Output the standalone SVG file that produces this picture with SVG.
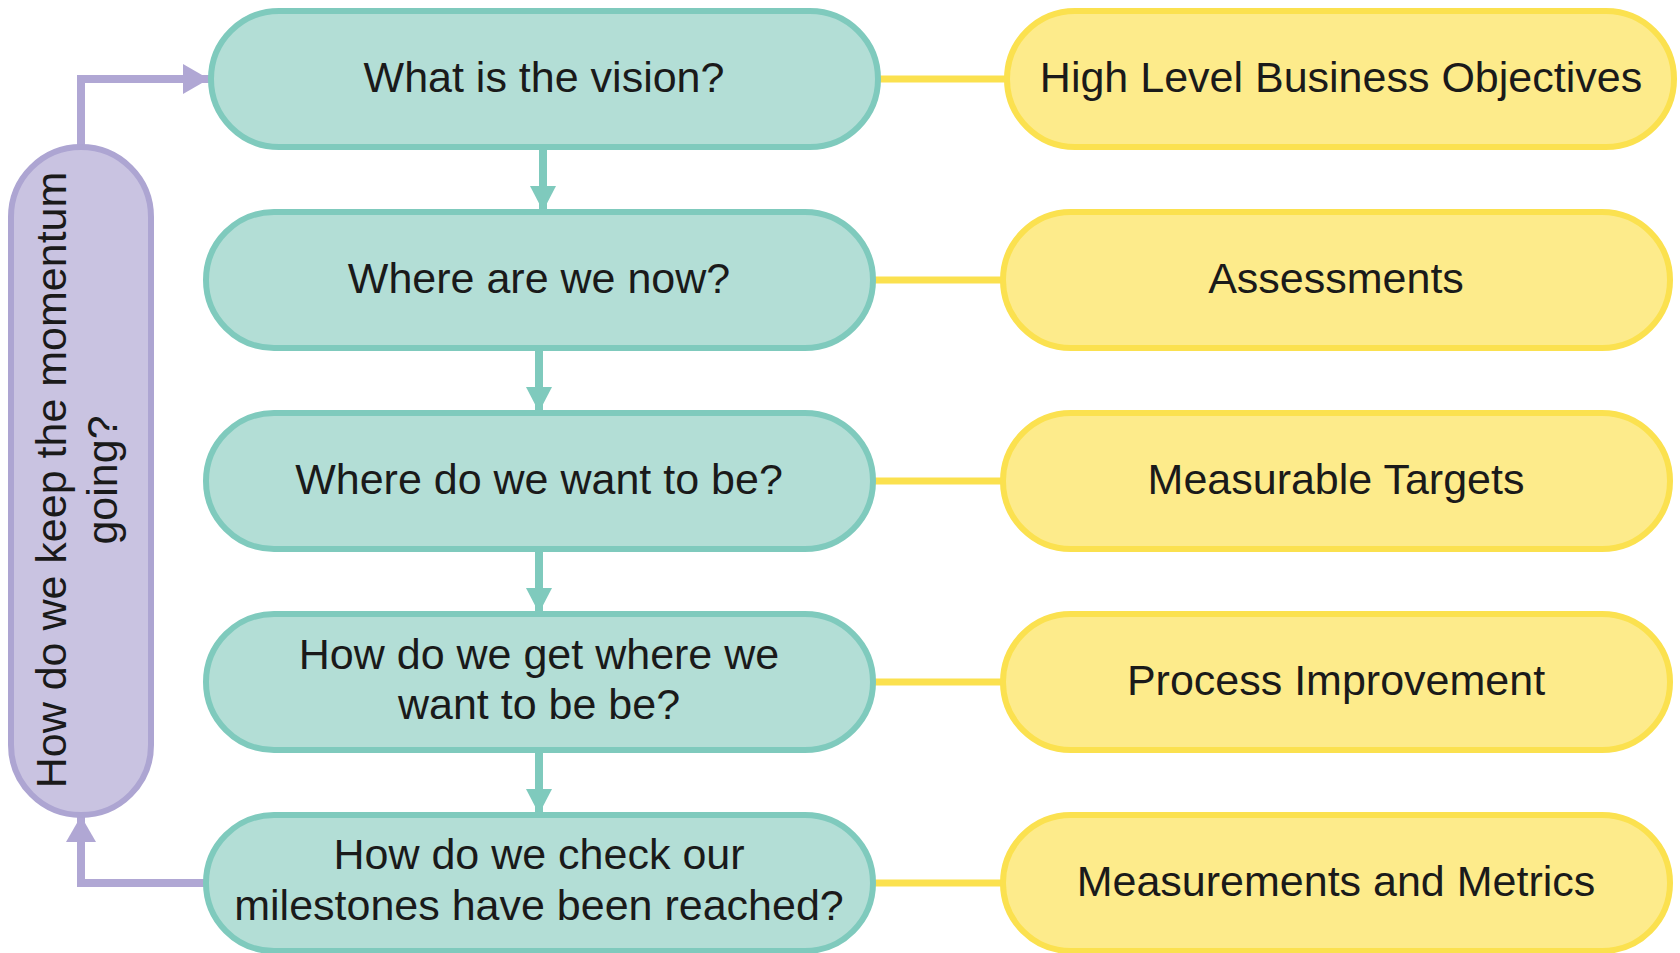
<svg xmlns="http://www.w3.org/2000/svg" width="1680" height="953" viewBox="0 0 1680 953">
  <style>
    .q rect { fill: #b3ded6; stroke: #7fcabd; stroke-width: 6; }
    .a rect { fill: #fdeb8b; stroke: #fbe14f; stroke-width: 6; }
    .loop rect { fill: #c9c3e1; stroke: #ada5d2; stroke-width: 6; }
    text { font-family: "Liberation Sans", Arial, sans-serif; font-size: 43px; fill: #1a1a1a; text-anchor: middle; }
    .flow { stroke: #7fcabd; stroke-width: 8; fill: none; }
    .link { stroke: #fbe14f; stroke-width: 7; fill: none; }
    .back { stroke: #b0a7d4; stroke-width: 8; fill: none; }
  </style>
  <defs>
    <marker id="tealHead" markerUnits="userSpaceOnUse" markerWidth="26" markerHeight="26" refX="25" refY="13" orient="auto">
      <path d="M0,0 L25,13 L0,26 Z" fill="#7fcabd"/>
    </marker>
    <marker id="purpleHead" markerUnits="userSpaceOnUse" markerWidth="27" markerHeight="30" refX="26" refY="15" orient="auto">
      <path d="M0,0 L26,15 L0,30 Z" fill="#b0a7d4"/>
    </marker>
  </defs>
  <rect width="1680" height="953" fill="#ffffff"/>

  <!-- connectors -->
  <g id="connectors">
    <!-- question flow -->
    <path class="flow" d="M543,148 V211" marker-end="url(#tealHead)"/>
    <path class="flow" d="M539,349 V412" marker-end="url(#tealHead)"/>
    <path class="flow" d="M539,550 V613" marker-end="url(#tealHead)"/>
    <path class="flow" d="M539,751 V814" marker-end="url(#tealHead)"/>
    <!-- question to answer links -->
    <path class="link" d="M878,79 H1007"/>
    <path class="link" d="M873,280 H1003"/>
    <path class="link" d="M873,481 H1003"/>
    <path class="link" d="M873,682 H1003"/>
    <path class="link" d="M873,883 H1003"/>
    <!-- feedback loop -->
    <path class="back" d="M81,147 V79 H209" marker-end="url(#purpleHead)"/>
    <path class="back" d="M206,883 H81 V816" marker-end="url(#purpleHead)"/>
  </g>

  <!-- loop node -->
  <g id="node-momentum" class="loop">
    <rect x="11" y="147" width="140" height="668" rx="70" ry="70"/>
    <g transform="translate(81,480) rotate(-90)">
      <text x="0" y="-15">How do we keep the momentum</text>
      <text x="0" y="36">going?</text>
    </g>
  </g>

  <!-- question nodes -->
  <g id="node-vision" class="q">
    <rect x="211" y="11" width="667" height="136" rx="68" ry="68"/>
    <text x="544" y="92">What is the vision?</text>
  </g>
  <g id="node-now" class="q">
    <rect x="206" y="212" width="667" height="136" rx="68" ry="68"/>
    <text x="539" y="293">Where are we now?</text>
  </g>
  <g id="node-want" class="q">
    <rect x="206" y="413" width="667" height="136" rx="68" ry="68"/>
    <text x="539" y="494">Where do we want to be?</text>
  </g>
  <g id="node-how" class="q">
    <rect x="206" y="614" width="667" height="136" rx="68" ry="68"/>
    <text x="539" y="669">How do we get where we</text>
    <text x="539" y="719">want to be be?</text>
  </g>
  <g id="node-check" class="q">
    <rect x="206" y="815" width="667" height="136" rx="68" ry="68"/>
    <text x="539" y="869">How do we check our</text>
    <text x="539" y="920">milestones have been reached?</text>
  </g>

  <!-- answer nodes -->
  <g id="node-objectives" class="a">
    <rect x="1007" y="11" width="667" height="136" rx="68" ry="68"/>
    <text x="1341" y="92">High Level Business Objectives</text>
  </g>
  <g id="node-assessments" class="a">
    <rect x="1003" y="212" width="667" height="136" rx="68" ry="68"/>
    <text x="1336" y="293">Assessments</text>
  </g>
  <g id="node-targets" class="a">
    <rect x="1003" y="413" width="667" height="136" rx="68" ry="68"/>
    <text x="1336" y="494">Measurable Targets</text>
  </g>
  <g id="node-improvement" class="a">
    <rect x="1003" y="614" width="667" height="136" rx="68" ry="68"/>
    <text x="1336" y="695">Process Improvement</text>
  </g>
  <g id="node-metrics" class="a">
    <rect x="1003" y="815" width="667" height="136" rx="68" ry="68"/>
    <text x="1336" y="896">Measurements and Metrics</text>
  </g>
</svg>
